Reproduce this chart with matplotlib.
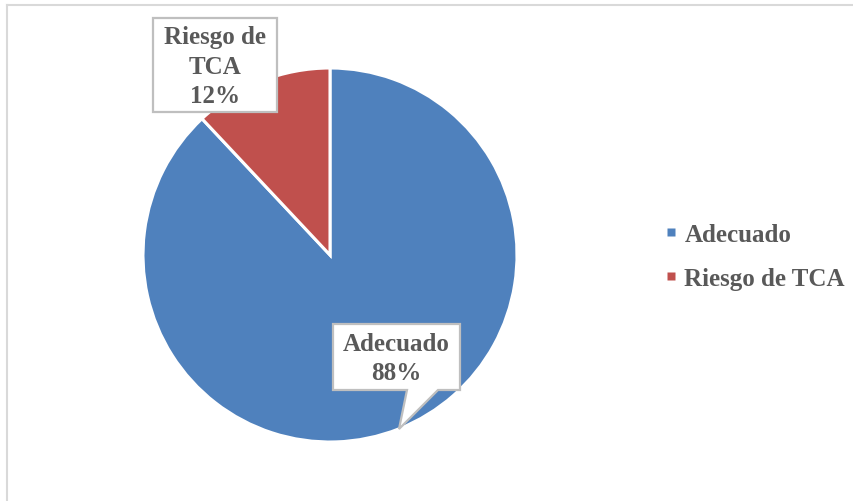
import matplotlib
matplotlib.use("Agg")
import matplotlib.pyplot as plt
from matplotlib.patches import Polygon
from matplotlib.lines import Line2D

categories = ["Adecuado", "Riesgo de TCA"]
values = [88, 12]
colors = ["#4F81BD", "#C0504D"]
label_texts = ["Adecuado\n88%", "Riesgo de\nTCA\n12%"]

W, H = 854, 502
fig = plt.figure(figsize=(W / 100, H / 100), dpi=100)
ax = fig.add_axes([0, 0, 1, 1])

font = dict(family=["Liberation Serif", "DejaVu Serif"], weight="bold", size=18, color="#595959")

center = (330, H - 256)
radius = 187
wedges, _ = ax.pie(values, colors=colors, startangle=90, counterclock=False,
                   center=center, radius=radius, frame=False,
                   wedgeprops=dict(edgecolor="white", linewidth=2.2))
ax.set_xlim(0, W)
ax.set_ylim(0, H)
ax.set_aspect("equal")
ax.axis("off")

# callout boxes (layout in pixel coords, y up)
def callout(box, pointer=None):
    x0, y0, x1, y1 = box
    if pointer is None:
        pts = [(x0, y0), (x1, y0), (x1, y1), (x0, y1)]
    else:
        (pa, pb, tip) = pointer
        pts = [(x0, y0), (pa, y0), tip, (pb, y0), (x1, y0), (x1, y1), (x0, y1)]
    ax.add_patch(Polygon(pts, closed=True, facecolor="white", edgecolor="#BFBFBF",
                         linewidth=1.6, zorder=5))

# Adecuado label
callout((333, H - 391, 460, H - 325), (407, 438, (399, H - 430)))
ax.text(396.5, H - 359, label_texts[0], ha="center", va="center",
        linespacing=1.3, zorder=6, **font)

# Riesgo label
callout((153, H - 113, 277, H - 19))
ax.text(215, H - 67, label_texts[1], ha="center", va="center",
        linespacing=1.38, zorder=6, **font)

handles = [Line2D([], [], linestyle="none", marker="s", markersize=5.2,
                  markerfacecolor=c, markeredgecolor="none") for c in colors]
leg = fig.legend(handles, categories, loc="center left",
                 bbox_to_anchor=(667 / W, (H - 257.5) / H),
                 frameon=False, borderpad=0, borderaxespad=0,
                 handlelength=0.35, handletextpad=0.35,
                 labelspacing=0.85,
                 prop=dict(family=["Liberation Serif", "DejaVu Serif"], weight="bold", size=18))
for t in leg.get_texts():
    t.set_color("#595959")

# chart area border (top and left visible)
ax.plot([7.5, W + 10], [H - 5.5, H - 5.5], color="#D9D9D9", lw=1.5, clip_on=False)
ax.plot([7.5, 7.5], [H - 5.5, -10], color="#D9D9D9", lw=1.5, clip_on=False)

fig.savefig("out.png", dpi=100)
